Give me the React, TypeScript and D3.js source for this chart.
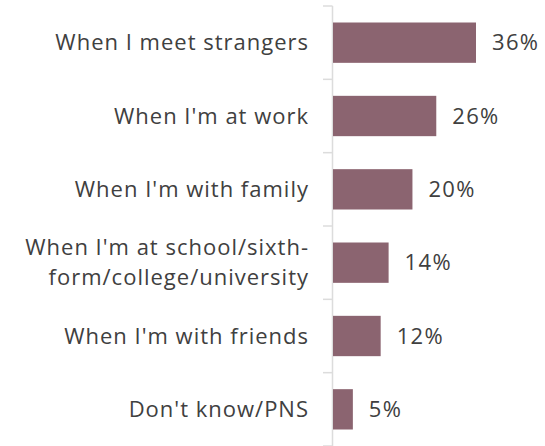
import * as d3 from "d3";

const categories = [
  "When I meet strangers",
  "When I'm at work",
  "When I'm with family",
  "When I'm at school/sixth-form/college/university",
  "When I'm with friends",
  "Don't know/PNS",
];
const labelLines = [
  ["When I meet strangers"],
  ["When I'm at work"],
  ["When I'm with family"],
  ["When I'm at school/sixth-", "form/college/university"],
  ["When I'm with friends"],
  ["Don't know/PNS"],
];
const values = [36, 26, 20, 14, 12, 5];

const W = 545;
const H = 446;
const FONT = "'Open Sans', sans-serif";

export default function App() {
  const axisX = 332.5;
  const x = d3.scaleLinear().domain([0, 36]).range([333, 476]);
  const y = d3
    .scaleBand<string>()
    .domain(categories)
    .range([6, 446])
    .paddingInner(0.45)
    .paddingOuter(0.225);
  const step = y.step();
  const tickYs = d3.range(categories.length + 1).map((i) => 6 + i * step);

  return (
    <svg
      width={W}
      height={H}
      style={{ position: "absolute", left: 0, top: 0, background: "#fff" }}
      fontFamily={FONT}
    >
      {/* axis line + separators */}
      <line x1={axisX} x2={axisX} y1={6} y2={H} stroke="#dcdcdc" strokeWidth={1.5} />
      {tickYs.map((ty, i) => (
        <line key={i} x1={323} x2={axisX} y1={ty} y2={ty} stroke="#dcdcdc" strokeWidth={1.5} />
      ))}

      {categories.map((c, i) => {
        const by = y(c)!;
        const cy = by + y.bandwidth() / 2;
        const lines = labelLines[i];
        const lh = 30;
        return (
          <g key={c}>
            <rect x={x(0)} y={by} width={x(values[i]) - x(0)} height={y.bandwidth()} fill="#8b6470" />
            <text
              x={x(values[i]) + 16}
              y={cy}
              dy="0.35em"
              fontSize={22}
              fill="#404040"
              letterSpacing={1.3}
            >
              {values[i]}%
            </text>
            <text x={309} fontSize={22} fill="#404040" textAnchor="end" letterSpacing={1}>
              {lines.map((l, j) => (
                <tspan key={j} x={309} y={cy + (j - (lines.length - 1) / 2) * lh} dy="0.35em">
                  {l}
                </tspan>
              ))}
            </text>
          </g>
        );
      })}
    </svg>
  );
}
